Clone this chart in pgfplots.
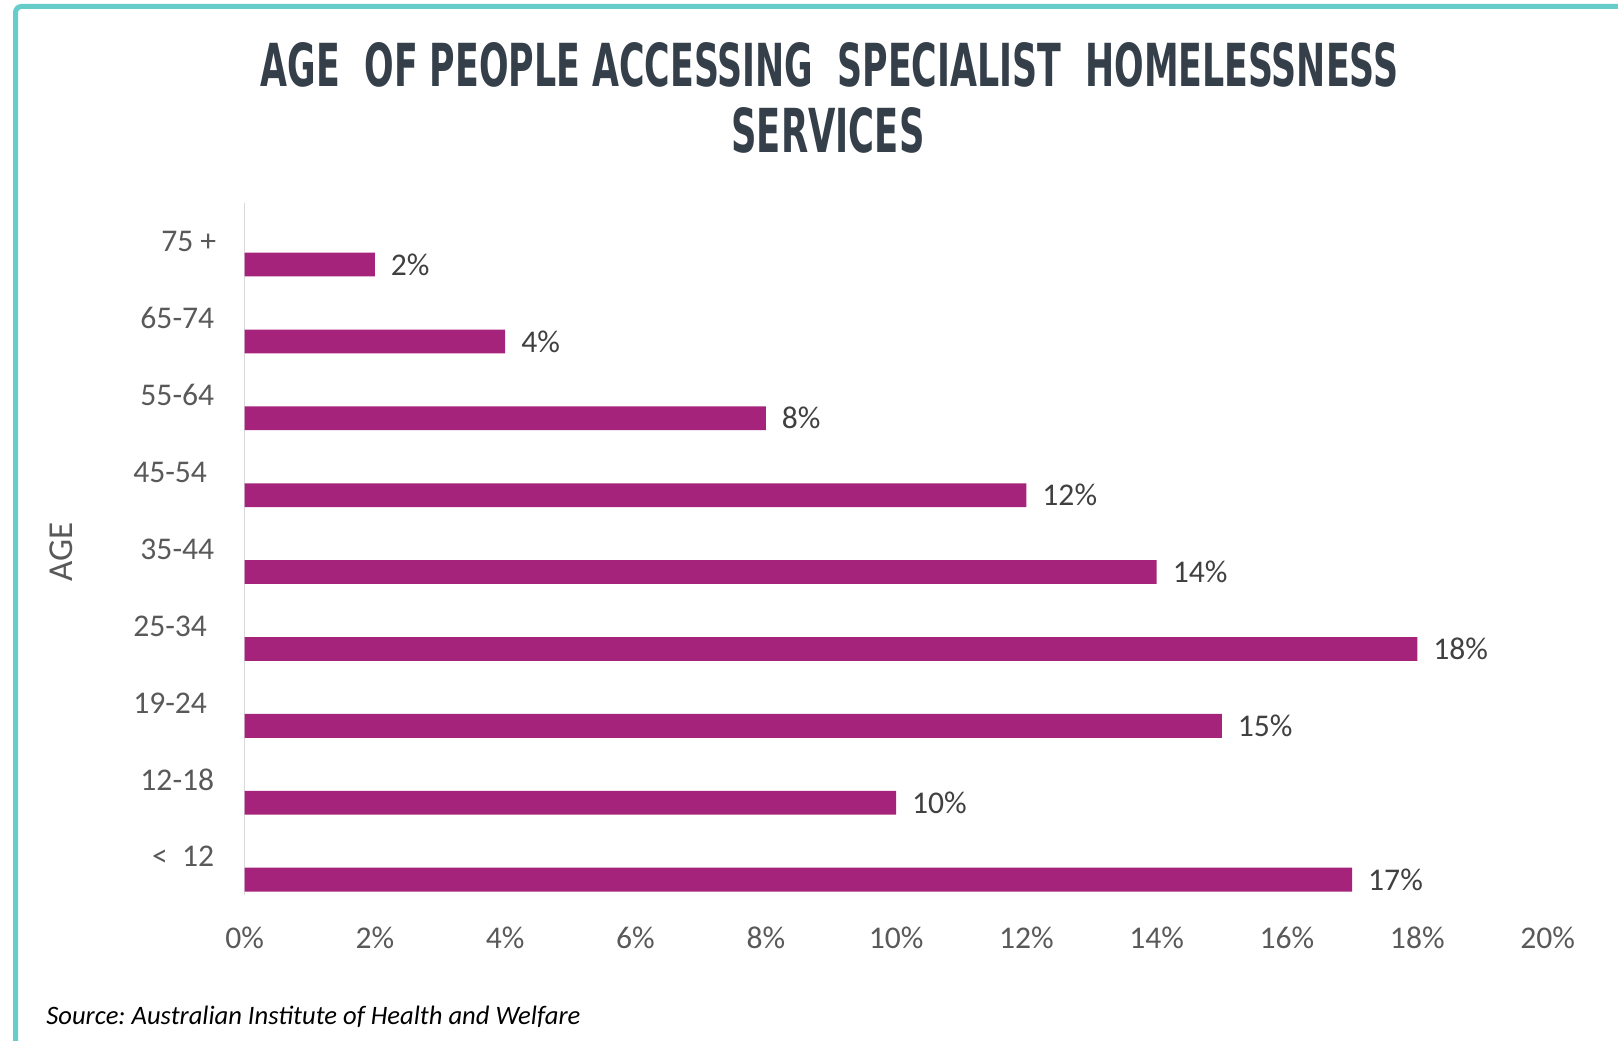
\documentclass[border=0pt]{standalone}
\usepackage{fontspec}
\setmainfont{Carlito}
\newfontfamily\titlefont{DejaVu Sans Condensed}
\usepackage{pgfplots}
\pgfplotsset{compat=1.18}
\definecolor{barc}{HTML}{A6237B}
\definecolor{titlec}{HTML}{343F4A}
\definecolor{tickc}{HTML}{595959}
\definecolor{labc}{HTML}{404040}
\definecolor{framec}{HTML}{66CDCB}
\definecolor{axc}{HTML}{D9D9D9}
\begin{document}
\begin{tikzpicture}
\useasboundingbox (0,0) rectangle (809pt,520pt);
\draw[line width=2.5pt, color=framec, rounded corners=3pt] (7.75pt,-10pt) -- (7.75pt,516.75pt) -- (830pt,516.75pt);
\node[anchor=base, color=titlec, inner sep=0pt] at (414.8pt,476.5pt) {\resizebox{568.6pt}{22pt}{\titlefont\bfseries AGE\ \ OF PEOPLE ACCESSING\ \ SPECIALIST\ \ HOMELESSNESS}};
\node[anchor=base, color=titlec, inner sep=0pt] at (414pt,443.5pt) {\resizebox{96.5pt}{22.5pt}{\titlefont\bfseries SERVICES}};
\node[rotate=90, font=\fontsize{17.5}{20}\selectfont, color=tickc] at (30.85pt,244pt) {AGE};
\node[anchor=base west, font=\itshape\fontsize{13.3}{16}\selectfont, inner sep=0pt] at (23pt,8pt) {Source:\ Australian\ Institute\ of Health and Welfare};
\begin{axis}[
  at={(122.3pt,72.5pt)}, anchor=south west,
  scale only axis, width=651.5pt, height=346pt,
  xbar, bar width=11.9pt,
  xmin=0, xmax=20, ymin=-0.5, ymax=8.5,
  axis lines*=left,
  x axis line style={draw=none},
  y axis line style={draw=axc, line width=0.8pt},
  tick style={draw=none},
  xtick={0,2,...,20},
  xticklabels={0\%,2\%,4\%,6\%,8\%,10\%,12\%,14\%,16\%,18\%,20\%},
  ytick={0,...,8},
  yticklabels={{<\ \ 12},{12-18},{19-24\kern3.6pt},{25-34\kern3.6pt},{35-44},{45-54\kern3.6pt},{55-64},{65-74},{75 +\kern-1pt}},
  xticklabel style={font=\fontsize{15.8}{18}\selectfont, color=tickc, yshift=-12.5pt},
  yticklabel style={font=\fontsize{15.8}{18}\selectfont, color=tickc, xshift=-7.4pt},
  /pgf/number format/assume math mode=true,
  point meta=x,
  nodes near coords={\pgfmathprintnumber{\pgfplotspointmeta}\%},
  nodes near coords style={font=\fontsize{15.8}{18}\selectfont, color=labc, xshift=4.5pt},
  clip=false,
]
\addplot[fill=barc, draw=none] coordinates {
  (17,-0.3) (10,0.7) (15,1.7) (18,2.7) (14,3.7) (12,4.7) (8,5.7) (4,6.7) (2,7.7)
};
\end{axis}
\end{tikzpicture}
\end{document}
